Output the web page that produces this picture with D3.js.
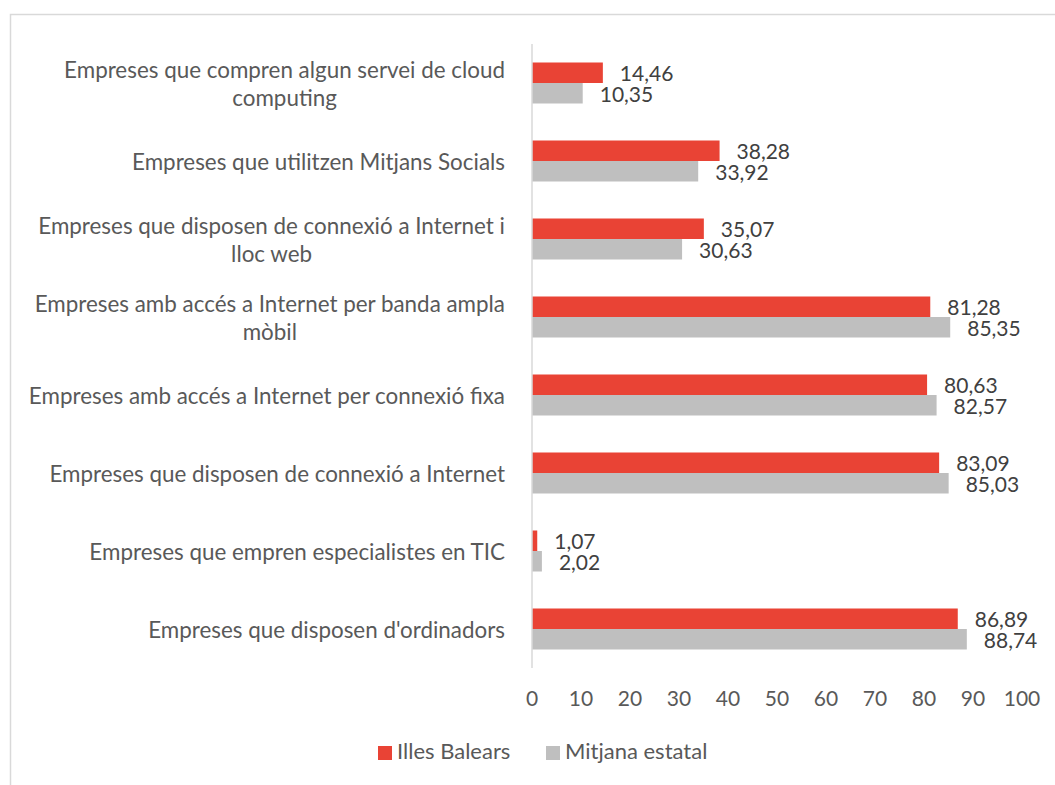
<!DOCTYPE html>
<html>
<head>
<meta charset="utf-8">
<script src="https://cdn.jsdelivr.net/npm/d3@7"></script>
<style>
  body { margin: 0; background: #fff; }
  text { font-family: Lato, "Open Sans", sans-serif; }
</style>
</head>
<body>
<div id="chart"></div>
<script>
// categories, top to bottom (each entry = lines of the wrapped label)
const categories = [
  ["Empreses que compren algun servei de cloud", "computing"],
  ["Empreses que utilitzen Mitjans Socials"],
  ["Empreses que disposen de connexió a Internet i", "lloc web"],
  ["Empreses amb accés a Internet per banda ampla", "mòbil"],
  ["Empreses amb accés a Internet per connexió fixa"],
  ["Empreses que disposen de connexió a Internet"],
  ["Empreses que empren especialistes en TIC"],
  ["Empreses que disposen d'ordinadors"]
];
const balears = [14.46, 38.28, 35.07, 81.28, 80.63, 83.09, 1.07, 86.89];
const estatal = [10.35, 33.92, 30.63, 85.35, 82.57, 85.03, 2.02, 88.74];
const seriesNames = ["Illes Balears", "Mitjana estatal"];
const ticks = [0, 10, 20, 30, 40, 50, 60, 70, 80, 90, 100];

(function() {
  let width  = 1055,
      height = 785;

  let colors = ["#E94335", "#BFBFBF"];
  let fmt = v => v.toFixed(2).replace(".", ",");

  let svg = d3.select("#chart")
    .append("svg")
    .attr("width", width)
    .attr("height", height);

  // chart frame (clipped by the page on right and bottom)
  svg.append("rect")
    .attr("x", 10.5).attr("y", 14.5)
    .attr("width", 1100).attr("height", 900)
    .attr("fill", "none")
    .attr("stroke", "#d9d9d9")
    .attr("stroke-width", 1.5);

  let x = d3.scaleLinear().domain([0, 100]).range([532, 1022]);
  let y = d3.scaleBand().domain(d3.range(categories.length)).range([44, 668]);
  let inner = d3.scaleBand().domain([0, 1]).range([0, 41]);
  let barOff = (y.bandwidth() - 41) / 2;

  // bars
  let series = [balears, estatal];
  series.forEach((vals, s) => {
    svg.append("g").selectAll("rect")
      .data(vals)
      .enter().append("rect")
      .attr("x", x(0))
      .attr("y", (d, i) => y(i) + barOff + inner(s))
      .attr("width", d => x(d) - x(0))
      .attr("height", inner.bandwidth())
      .attr("fill", colors[s]);

    svg.append("g").selectAll("text")
      .data(vals)
      .enter().append("text")
      .attr("x", d => x(d) + 17)
      .attr("y", (d, i) => y(i) + barOff + inner(s) + inner.bandwidth() / 2 + 3)
      .attr("dominant-baseline", "middle")
      .attr("font-size", 21)
      .attr("fill", "#404040")
      .text(d => fmt(d));
  });

  // vertical axis line
  svg.append("line")
    .attr("x1", x(0)).attr("x2", x(0))
    .attr("y1", 44).attr("y2", 668)
    .attr("stroke", "#d9d9d9")
    .attr("stroke-width", 1.5);

  // category labels: block right-aligned, lines centered inside the block
  let labelRight = 505, lineH = 28;
  categories.forEach((lines, i) => {
    let g = svg.append("g");
    let cy = y(i) + y.bandwidth() / 2 + 3;
    let texts = lines.map((t, j) => g.append("text")
      .attr("y", cy + (j - (lines.length - 1) / 2) * lineH)
      .attr("dominant-baseline", "middle")
      .attr("text-anchor", "middle")
      .attr("font-size", 22.4)
      .attr("fill", "#595959")
      .text(t));
    let maxW = d3.max(texts, t => t.node().getComputedTextLength());
    texts.forEach(t => t.attr("x", labelRight - maxW / 2));
  });

  // x axis tick labels
  svg.append("g").selectAll("text")
    .data(ticks)
    .enter().append("text")
    .attr("x", d => x(d))
    .attr("y", 701)
    .attr("text-anchor", "middle")
    .attr("dominant-baseline", "middle")
    .attr("font-size", 21)
    .attr("fill", "#595959")
    .text(d => d);

  // legend
  let legendX = [378, 546];
  seriesNames.forEach((name, s) => {
    svg.append("rect")
      .attr("x", legendX[s]).attr("y", 746)
      .attr("width", 14).attr("height", 14)
      .attr("fill", colors[s]);
    svg.append("text")
      .attr("x", legendX[s] + 19)
      .attr("y", 753)
      .attr("dominant-baseline", "middle")
      .attr("font-size", 22)
      .attr("fill", "#595959")
      .text(name);
  });
})();
</script>
</body>
</html>
